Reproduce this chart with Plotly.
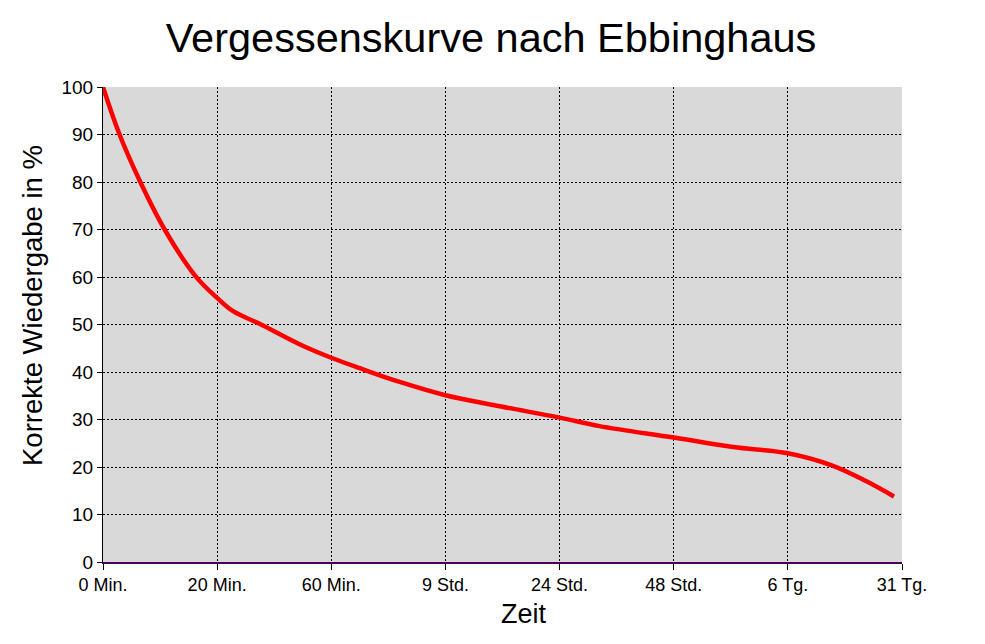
import plotly.graph_objects as go

title_text = "Vergessenskurve nach Ebbinghaus"
x_title = "Zeit"
y_title = "Korrekte Wiedergabe in %"

# category tick labels (positions 0..7)
tick_labels = ["0 Min.", "20 Min.", "60 Min.", "9 Std.", "24 Std.", "48 Std.", "6 Tg.", "31 Tg."]
tick_positions = list(range(len(tick_labels)))

# curve samples (x in category units)
curve_x = [0, 0.145, 0.327, 0.54, 0.81, 1.0, 1.14, 1.376, 1.726, 2.0, 2.25,
           2.6, 3.0, 3.476, 4.0, 4.35, 5.0, 5.52, 6.0, 6.39, 6.68, 6.93]
curve_y = [100, 90, 80, 70, 60.2, 55.6, 52.8, 50.1, 45.8, 43.0, 40.8,
           37.9, 35.1, 32.8, 30.4, 28.6, 26.2, 24.2, 22.9, 20.3, 17.1, 13.8]

FONT = "Liberation Sans, Arial, sans-serif"

fig = go.Figure()
fig.add_trace(go.Scatter(
    x=curve_x, y=curve_y, mode="lines",
    line=dict(color="#ff0000", width=4.5, shape="spline", smoothing=1.0),
    showlegend=False, hoverinfo="skip",
))

fig.update_layout(
    width=977, height=636,
    margin=dict(l=95, r=83, t=79, b=82),
    paper_bgcolor="white",
    plot_bgcolor="#d9d9d9",
    font=dict(family=FONT, color="black", size=18),
    title=dict(text=title_text, x=0.4944, xanchor="center", y=0.954, yanchor="middle",
               font=dict(size=41.5, family=FONT, color="black")),
    showlegend=False,
)

fig.update_xaxes(
    range=[0, 7], tickvals=tick_positions, ticktext=tick_labels,
    showgrid=True, gridcolor="black", gridwidth=1, griddash="2px,2px",
    zeroline=False, showline=True, linecolor="#4b0055", linewidth=1.5,
    ticks="outside", ticklen=6, tickcolor="black", tickwidth=1,
    tickfont=dict(size=18, family=FONT, color="black"),
    fixedrange=True,
)
fig.update_yaxes(
    range=[0, 100], dtick=10, tick0=0,
    showgrid=True, gridcolor="black", gridwidth=1, griddash="2px,2px",
    zeroline=False, showline=True, linecolor="black", linewidth=1,
    ticks="outside", ticklen=5, tickcolor="black", tickwidth=1,
    tickfont=dict(size=19, family=FONT, color="black"),
    fixedrange=True,
)

fig.add_annotation(text=x_title, xref="paper", yref="paper", x=0.527, y=-0.109,
                   xanchor="center", yanchor="middle", showarrow=False,
                   font=dict(size=27, family=FONT, color="black"))
fig.add_annotation(text=y_title, xref="paper", yref="paper", x=-0.0876, y=0.539,
                   xanchor="center", yanchor="middle", textangle=-90, showarrow=False,
                   font=dict(size=27.5, family=FONT, color="black"))

fig.write_html("out.html")
